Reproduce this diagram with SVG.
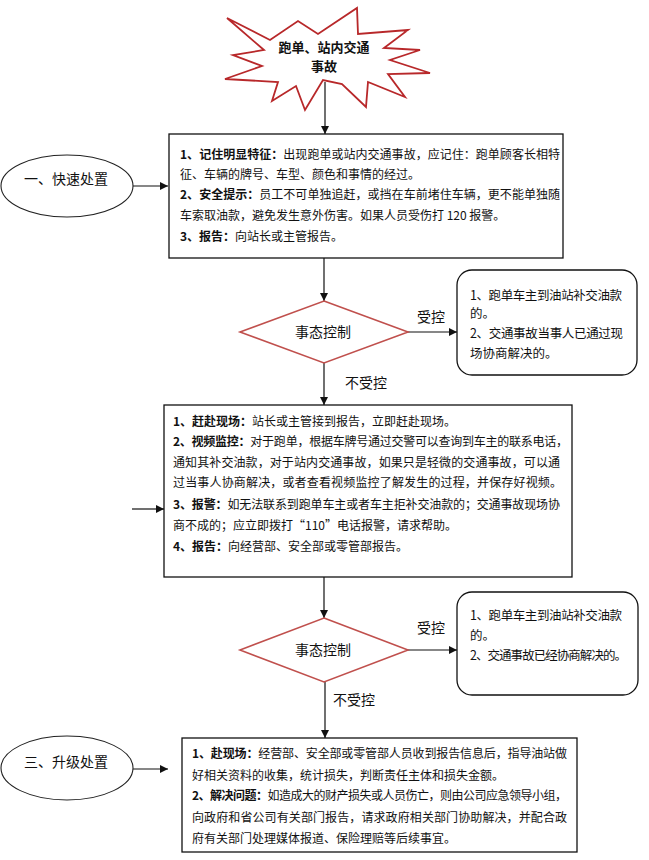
<svg xmlns="http://www.w3.org/2000/svg" width="649" height="860" viewBox="0 0 649 860">
<defs>
<style>
text{font-family:"Noto Sans CJK SC","Noto Sans",sans-serif;fill:#111;}
.t{font-size:12px;}
.s{font-size:12.5px;}
.l{font-size:14px;}
.st{font-size:13px;font-weight:bold;}
.b{font-weight:bold;}
.box{fill:#fff;stroke:#111;stroke-width:1.3;}
.dia{fill:#fff;stroke:#c0504d;stroke-width:1.6;}
.ell{fill:#fff;stroke:#222;stroke-width:1.1;}
.con{fill:none;stroke:#111;stroke-width:1.2;}
</style>
<marker id="ah" viewBox="0 0 10 10" refX="10" refY="5" markerWidth="9" markerHeight="8" markerUnits="userSpaceOnUse" orient="auto">
<path d="M0,0 L10,5 L0,10 z" fill="#111"/>
</marker>
</defs>
<rect width="649" height="860" fill="#fff"/>

<g id="connectors">
<line class="con" x1="325" y1="82" x2="325" y2="134" marker-end="url(#ah)"/>
<line class="con" x1="324" y1="258" x2="324" y2="301" marker-end="url(#ah)"/>
<line class="con" x1="133" y1="186" x2="168" y2="186" marker-end="url(#ah)"/>
<line class="con" x1="408" y1="332" x2="457" y2="332" marker-end="url(#ah)"/>
<line class="con" x1="324" y1="363" x2="324" y2="405" marker-end="url(#ah)"/>
<line class="con" x1="132" y1="509" x2="164" y2="509" marker-end="url(#ah)"/>
<line class="con" x1="324" y1="577" x2="324" y2="618" marker-end="url(#ah)"/>
<line class="con" x1="408" y1="650" x2="457" y2="650" marker-end="url(#ah)"/>
<line class="con" x1="325" y1="682" x2="325" y2="738" marker-end="url(#ah)"/>
<line class="con" x1="133" y1="769" x2="168" y2="769" marker-end="url(#ah)"/>
<text class="l" x="431" y="322" text-anchor="middle">受控</text>
<text class="l" x="366" y="388" text-anchor="middle">不受控</text>
<text class="l" x="431" y="633" text-anchor="middle">受控</text>
<text class="l" x="354" y="705" text-anchor="middle">不受控</text>
</g>

<g id="start">
<polygon points="227,18 270,40 298,21 318,34 357,8 358,34 408,30 384,48 420,50 390,60 430,73 388,74 405,97 368,82 366,107 342,84 323,80 305,110 296,86 272,101 278,82 225,79 262,66 233,55 264,50" fill="#fff" stroke="#b8282a" stroke-width="1.8" stroke-linejoin="miter"/>
<text class="st" x="324" y="52" text-anchor="middle">跑单、站内交通</text>
<text class="st" x="324" y="71" text-anchor="middle">事故</text>
</g>

<g id="quick">
<ellipse class="ell" cx="67" cy="186" rx="66" ry="31"/>
<text class="l" x="66" y="184" text-anchor="middle">一、快速处置</text>
</g>

<g id="box1">
<rect class="box" x="169" y="134" width="394" height="124"/>
<text class="t" x="180" y="158.5" textLength="380" lengthAdjust="spacing"><tspan class="b">1、记住明显特征：</tspan>出现跑单或站内交通事故，应记住：跑单顾客长相特</text>
<text class="t" x="180" y="178.5">征、车辆的牌号、车型、颜色和事情的经过。</text>
<text class="t" x="180" y="198.5" textLength="380" lengthAdjust="spacing"><tspan class="b">2、安全提示：</tspan>员工不可单独追赶，或挡在车前堵住车辆，更不能单独随</text>
<text class="t" x="180" y="219.5">车索取油款，避免发生意外伤害。如果人员受伤打 120 报警。</text>
<text class="t" x="180" y="240.5"><tspan class="b">3、报告：</tspan>向站长或主管报告。</text>
</g>

<g id="decision1">
<polygon class="dia" points="324,301 408,332 324,363 240,332"/>
<text class="l" x="323" y="337" text-anchor="middle">事态控制</text>
</g>

<g id="side1">
<rect class="box" x="457" y="270" width="180" height="105" rx="15" ry="15"/>
<text class="s" x="470" y="300" textLength="152" lengthAdjust="spacing">1、跑单车主到油站补交油款</text>
<text class="s" x="470" y="318">的。</text>
<text class="s" x="470" y="338" textLength="153" lengthAdjust="spacing">2、交通事故当事人已通过现</text>
<text class="s" x="470" y="358">场协商解决的。</text>
</g>

<g id="box2">
<rect class="box" x="164" y="405" width="408" height="172"/>
<text class="t" x="173" y="426"><tspan class="b">1、赶赴现场：</tspan>站长或主管接到报告，立即赶赴现场。</text>
<text class="t" x="173" y="446" textLength="395" lengthAdjust="spacing"><tspan class="b">2、视频监控：</tspan>对于跑单，根据车牌号通过交警可以查询到车主的联系电话，</text>
<text class="t" x="173" y="467" textLength="387" lengthAdjust="spacing">通知其补交油款，对于站内交通事故，如果只是轻微的交通事故，可以通</text>
<text class="t" x="173" y="487" textLength="389" lengthAdjust="spacing">过当事人协商解决，或者查看视频监控了解发生的过程，并保存好视频。</text>
<text class="t" x="173" y="509" textLength="387" lengthAdjust="spacing"><tspan class="b">3、报警：</tspan>如无法联系到跑单车主或者车主拒补交油款的；交通事故现场协</text>
<text class="t" x="173" y="530">商不成的；应立即拨打“110”电话报警，请求帮助。</text>
<text class="t" x="173" y="551"><tspan class="b">4、报告：</tspan>向经营部、安全部或零管部报告。</text>
</g>

<g id="decision2">
<polygon class="dia" points="324,618 408,650 324,682 240,650"/>
<text class="l" x="323" y="655" text-anchor="middle">事态控制</text>
</g>

<g id="side2">
<rect class="box" x="457" y="592" width="181" height="103" rx="15" ry="15"/>
<text class="s" x="470" y="620" textLength="152" lengthAdjust="spacing">1、跑单车主到油站补交油款</text>
<text class="s" x="470" y="640">的。</text>
<text class="s" x="470" y="660" textLength="157" lengthAdjust="spacing">2、交通事故已经协商解决的。</text>
</g>

<g id="escalate">
<ellipse class="ell" cx="67" cy="768" rx="66" ry="32"/>
<text class="l" x="66" y="767" text-anchor="middle">三、升级处置</text>
</g>

<g id="box3">
<rect class="box" x="182" y="738" width="395" height="114"/>
<text class="t" x="192" y="757.5" textLength="375" lengthAdjust="spacing"><tspan class="b">1、赴现场：</tspan>经营部、安全部或零管部人员收到报告信息后，指导油站做</text>
<text class="t" x="192" y="779.5">好相关资料的收集，统计损失，判断责任主体和损失金额。</text>
<text class="t" x="192" y="799.5" textLength="375" lengthAdjust="spacing"><tspan class="b">2、解决问题：</tspan>如造成大的财产损失或人员伤亡，则由公司应急领导小组，</text>
<text class="t" x="192" y="821.5" textLength="375" lengthAdjust="spacing">向政府和省公司有关部门报告，请求政府相关部门协助解决，并配合政</text>
<text class="t" x="192" y="842.5">府有关部门处理媒体报道、保险理赔等后续事宜。</text>
</g>
</svg>
